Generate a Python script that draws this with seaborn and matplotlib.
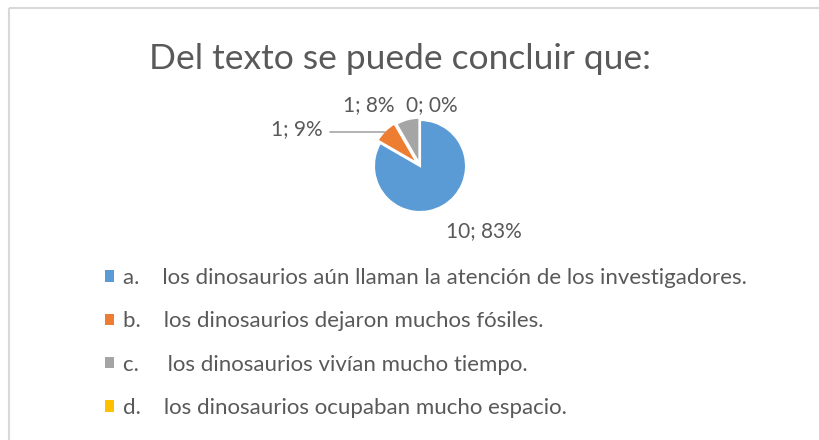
import matplotlib
matplotlib.use("Agg")
import matplotlib.pyplot as plt
from matplotlib.lines import Line2D
from matplotlib.patches import Patch
import seaborn as sns

# Answers to the question and how many students chose each one
letters = ["a.", "b.", "c.", "d."]
answers = [
    "los dinosaurios aún llaman la atención de los investigadores.",
    "los dinosaurios dejaron muchos fósiles.",
    " los dinosaurios vivían mucho tiempo.",
    "los dinosaurios ocupaban mucho espacio.",
]
counts = [10, 1, 1, 0]
percent_labels = ["83%", "9%", "8%", "0%"]
colors = ["#5B9BD5", "#ED7D31", "#A5A5A5", "#FFC000"]
title = "Del texto se puede concluir que:"

sns.set_theme(style="white")
plt.rcParams["font.family"] = ["Lato", "DejaVu Sans"]
text_color = "#595959"

W, H = 820, 440
fig = plt.figure(figsize=(W / 100, H / 100), dpi=100)
fig.patch.set_facecolor("white")


def fx(x):
    return x / W


def fy(y):
    return 1 - y / H


# chart-area frame (top and left edges visible)
fig.add_artist(Line2D([fx(8.5), 1], [fy(8.5), fy(8.5)], color="#D9D9D9", lw=1.5,
                      solid_capstyle="butt"))
fig.add_artist(Line2D([fx(8.5), fx(8.5)], [fy(8.5), 0], color="#D9D9D9", lw=1.5,
                      solid_capstyle="butt"))

fig.text(fx(400), fy(59), title, ha="center", va="center",
         fontsize=25.5, color=text_color, fontweight="normal")

# pie axes: centre (420,166) px, radius 46 px
R = 46
cx, cy = 420, 166
half = 1.5 * R
ax = fig.add_axes([fx(cx - half), fy(cy + half), 2 * half / W, 2 * half / H])
wedges, _ = ax.pie(
    counts, colors=colors, startangle=90, counterclock=False,
    explode=[0, 0.08, 0.05, 0], radius=1,
    wedgeprops=dict(edgecolor="white", linewidth=1.5),
)
ax.set_xlim(-1.5, 1.5)
ax.set_ylim(-1.5, 1.5)
ax.set_aspect("equal")
ax.axis("off")

# data labels "value; percent"
labels = [f"{c}; {p}" for c, p in zip(counts, percent_labels)]
label_px = [(484, 231, "center"), (323, 129, "right"), (369, 105, "center"), (432, 105, "center")]
for lab, (x, y, ha) in zip(labels, label_px):
    ax.text((x - cx) / R, -(y - cy) / R, lab, ha=ha, va="center",
            fontsize=15, color=text_color, clip_on=False)
# leader line for the "b" label
ax.plot([(330 - cx) / R, (385 - cx) / R], [-(132 - cy) / R] * 2,
        color="#A5A5A5", lw=1.2, clip_on=False)

handles = [Patch(facecolor=c, edgecolor="none") for c in colors]
leg_labels = [f"{l}    {a}" for l, a in zip(letters, answers)]
fig.legend(handles, leg_labels, loc="upper left",
           bbox_to_anchor=(fx(105), fy(268)), frameon=False,
           fontsize=16, labelcolor=text_color,
           handlelength=0.4, handleheight=0.4, handletextpad=0.4,
           labelspacing=1.05, borderpad=0, borderaxespad=0)

fig.savefig("out.png", dpi=100, facecolor="white")
